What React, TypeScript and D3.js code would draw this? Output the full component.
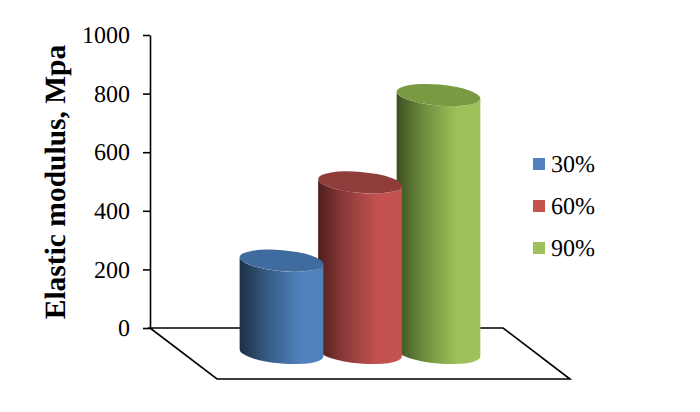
import React, { useEffect, useRef } from 'react';
import * as d3 from 'd3';

const series = ['30%', '60%', '90%'];
const values = [230, 497, 795];
const yTicks = [0, 200, 400, 600, 800, 1000];
const sideDark = ['#1d3045', '#4f1e1d', '#3c4f20'];
const sideMid = ['#35587f', '#8a3a38', '#6b8a3c'];
const sideLight = ['#4f81bd', '#c4524f', '#9fc05a'];
const topFill = ['#3f6b9e', '#8f3d3b', '#7a9a42'];

const W = 700;
const H = 412;
const FONT = '"Liberation Serif", "Times New Roman", serif';

export default function App() {
    const ref = useRef<SVGSVGElement | null>(null);

    useEffect(() => {
        const svg = d3.select(ref.current);
        svg.selectAll('*').remove();

        const y = d3.scaleLinear().domain([0, 1000]).range([328, 35]);
        const x = d3.scalePoint<string>().domain(series).range([281.5, 438.5]);

        // floor parallelogram in front of the axis
        const depthX = 67;
        const depthY = 51;
        const floorW = 353;
        const x0 = 150;
        const y0 = y(0);
        const floor = d3.line();
        svg.append('path')
            .attr('d', floor([
                [x0, y0],
                [x0 + floorW, y0],
                [x0 + floorW + depthX, y0 + depthY],
                [x0 + depthX, y0 + depthY],
            ]) + 'Z')
            .attr('fill', 'none')
            .attr('stroke', '#000')
            .attr('stroke-width', 1.6);

        const axis = d3.axisLeft(y)
            .tickValues(yTicks)
            .tickFormat(d3.format('d'))
            .tickSize(7)
            .tickPadding(13)
            .tickSizeOuter(0);
        const gAxis = svg.append('g')
            .attr('transform', 'translate(' + x0 + ',0)')
            .call(axis);
        gAxis.selectAll('line, path').attr('stroke', '#000').attr('stroke-width', 1.6);
        gAxis.selectAll('text')
            .attr('x', -20)
            .attr('font-family', FONT)
            .attr('font-size', 24)
            .attr('text-rendering', 'geometricPrecision')
            .attr('fill', '#000');

        svg.append('text')
            .attr('transform', 'translate(65,182) rotate(-90)')
            .attr('text-anchor', 'middle')
            .attr('font-family', FONT)
            .attr('font-size', 29.5)
            .attr('font-weight', 'bold')
            .attr('text-rendering', 'geometricPrecision')
            .attr('fill', '#000')
            .text('Elastic modulus, Mpa');

        // gradients for the cylinder sides
        const defs = svg.append('defs');
        series.forEach((s, i) => {
            const g = defs.append('linearGradient').attr('id', 'side' + i);
            g.append('stop').attr('offset', '0%').attr('stop-color', sideDark[i]);
            g.append('stop').attr('offset', '30%').attr('stop-color', sideMid[i]);
            g.append('stop').attr('offset', '72%').attr('stop-color', sideLight[i]);
            g.append('stop').attr('offset', '100%').attr('stop-color', sideLight[i]);
        });

        const rx = 42;
        const ry = 10.5;
        const rot = 5;
        const rad = (rot * Math.PI) / 180;
        const xe = Math.sqrt(rx * rx * Math.cos(rad) ** 2 + ry * ry * Math.sin(rad) ** 2);
        const dy = ((rx * rx - ry * ry) * Math.sin(rad) * Math.cos(rad)) / xe;
        const baseOffset = 25;

        // back to front so the shorter cylinders overlap the taller ones
        d3.range(series.length).reverse().forEach((i) => {
            const cx = x(series[i]) as number;
            const top = y(values[i]);
            const bottom = y0 + baseOffset;
            const arc = 'A' + rx + ' ' + ry + ' ' + rot + ' ';
            svg.append('path')
                .attr('d',
                    'M' + (cx - xe) + ' ' + (top - dy) +
                    'L' + (cx - xe) + ' ' + (bottom - dy) +
                    arc + '0 0 ' + (cx + xe) + ' ' + (bottom + dy) +
                    'L' + (cx + xe) + ' ' + (top + dy) +
                    arc + '0 1 ' + (cx - xe) + ' ' + (top - dy) + 'Z')
                .attr('fill', 'url(#side' + i + ')');
            svg.append('ellipse')
                .attr('rx', rx)
                .attr('ry', ry)
                .attr('transform', 'translate(' + cx + ',' + top + ') rotate(' + rot + ')')
                .attr('fill', topFill[i]);
        });

        // legend
        const legendY = d3.scalePoint<string>().domain(series).range([164, 248]);
        series.forEach((s, i) => {
            const ly = legendY(s) as number;
            svg.append('rect')
                .attr('x', 533)
                .attr('y', ly - 6)
                .attr('width', 12)
                .attr('height', 12)
                .attr('fill', sideLight[i]);
            svg.append('text')
                .attr('x', 551)
                .attr('y', ly + 8)
                .attr('font-family', FONT)
                .attr('font-size', 24)
                .attr('text-rendering', 'geometricPrecision')
                .attr('fill', '#000')
                .text(s);
        });
    }, []);

    return (
        <svg
            ref={ref}
            width={W}
            height={H}
            style={{ position: 'absolute', left: 0, top: 0, background: '#fff' }}
        />
    );
}
